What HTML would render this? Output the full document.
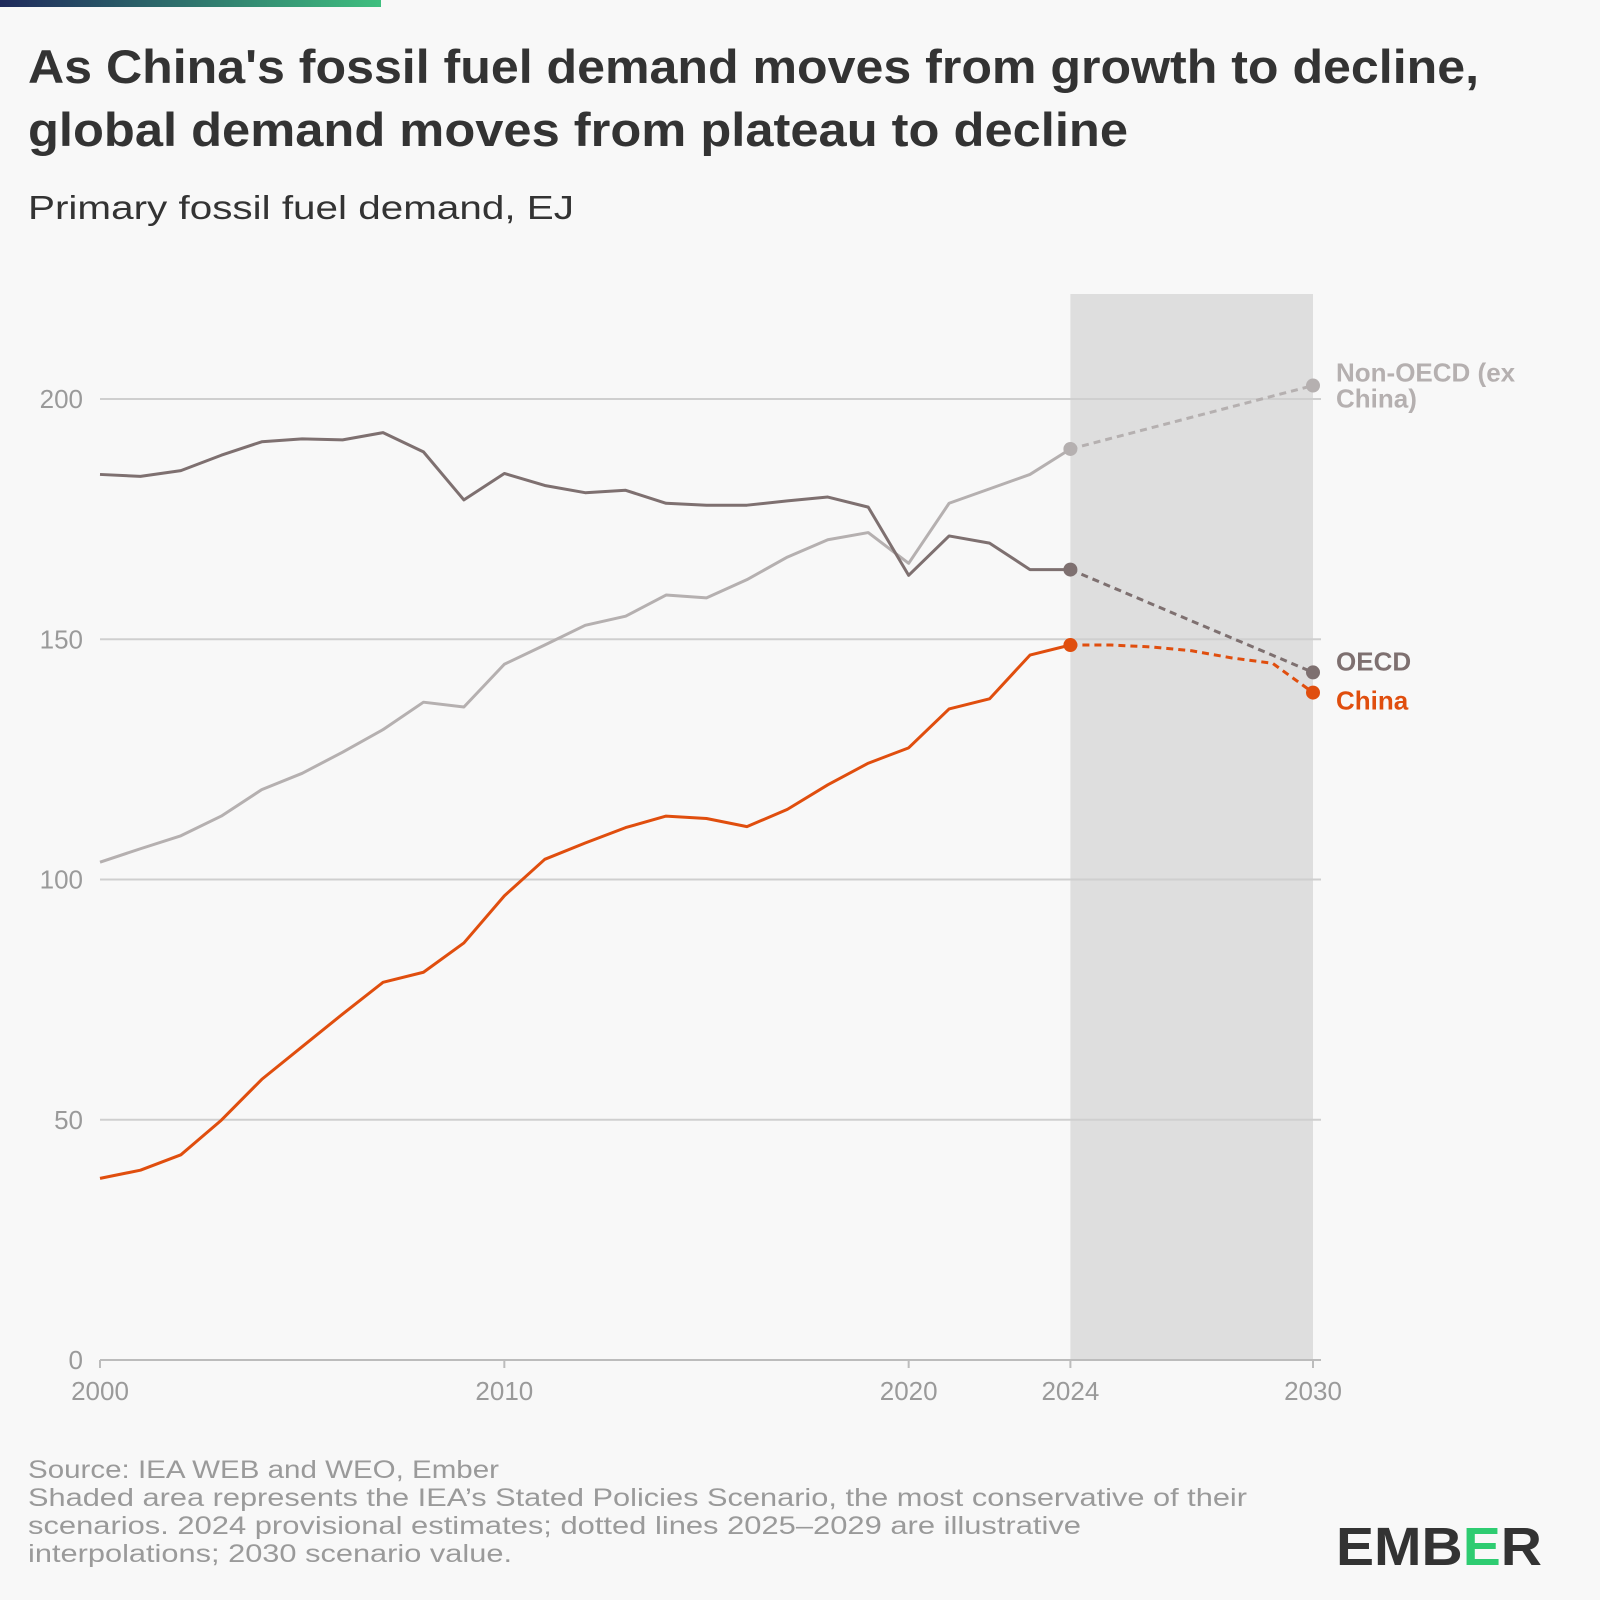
<!DOCTYPE html>
<html><head><meta charset="utf-8"><style>
body{margin:0;background:#f8f8f8;font-family:"Liberation Sans",sans-serif;}
#wrap{position:relative;width:1600px;height:1600px;overflow:hidden;background:#f8f8f8}
</style></head><body>
<div id="wrap">
<svg id="chart" width="1600" height="1600" xmlns="http://www.w3.org/2000/svg">
<defs><linearGradient id="tg" x1="0" x2="1"><stop offset="0" stop-color="#1f2a5c"/><stop offset="1" stop-color="#3fbf7f"/></linearGradient></defs>
<rect x="0" y="0" width="381" height="7" fill="url(#tg)"/>
<text x="28" y="83" font-size="47" font-weight="bold" fill="#333" textLength="1451" lengthAdjust="spacingAndGlyphs">As China's fossil fuel demand moves from growth to decline,</text>
<text x="28" y="146" font-size="47" font-weight="bold" fill="#333" textLength="1100" lengthAdjust="spacingAndGlyphs">global demand moves from plateau to decline</text>
<text x="28" y="219" font-size="33" fill="#333" textLength="546" lengthAdjust="spacingAndGlyphs">Primary fossil fuel demand, EJ</text>
<g id="plot"></g>
<g font-size="25" fill="#9a9a9a">
<text x="28" y="1478" textLength="471" lengthAdjust="spacingAndGlyphs">Source: IEA WEB and WEO, Ember</text>
<text x="28" y="1506" textLength="1219" lengthAdjust="spacingAndGlyphs">Shaded area represents the IEA’s Stated Policies Scenario, the most conservative of their</text>
<text x="28" y="1534" textLength="1053" lengthAdjust="spacingAndGlyphs">scenarios. 2024 provisional estimates; dotted lines 2025–2029 are illustrative</text>
<text x="28" y="1562" textLength="484" lengthAdjust="spacingAndGlyphs">interpolations; 2030 scenario value.</text>
</g>
<text x="1336" y="1565" font-size="54" font-weight="bold" fill="#333" textLength="206" lengthAdjust="spacingAndGlyphs">EMB<tspan fill="#2ecc71">E</tspan>R</text>
</svg>
<script>
const years=[2000,2001,2002,2003,2004,2005,2006,2007,2008,2009,2010,2011,2012,2013,2014,2015,2016,2017,2018,2019,2020,2021,2022,2023,2024];
const oecd=[184.3,183.9,185.1,188.3,191.1,191.7,191.5,193,189,179,184.5,182,180.5,181,178.3,177.9,177.9,178.8,179.6,177.5,163.3,171.5,170,164.5,164.5];
const nonOecd=[103.6,106.4,109.1,113.2,118.7,122.1,126.5,131.2,136.9,135.9,144.8,148.8,152.9,154.8,159.2,158.6,162.4,167.1,170.7,172.2,165.8,178.3,181.3,184.3,189.6];
const china=[37.8,39.5,42.7,49.9,58.4,65.2,72,78.6,80.7,86.8,96.6,104.2,107.6,110.8,113.2,112.7,111,114.6,119.7,124.2,127.4,135.5,137.6,146.7,148.8];
const projYears=[2024,2030];
const oecdProj=[164.5,143.1];
const nonOecdProj=[189.6,202.8];
const chinaProjYears=[2024,2025,2026,2027,2028,2029,2030];
const chinaProj=[148.8,148.8,148.4,147.6,146.1,145,138.9];
const yTicks=[0,50,100,150,200];
const xTicks=[2000,2010,2020,2024,2030];

const X=y=>100+(y-2000)*(1313-100)/30;
const Y=v=>1360-v*(1360-399)/200;
const NS="http://www.w3.org/2000/svg";
const g=document.getElementById('plot');
function mk(t,a){const e=document.createElementNS(NS,t);for(const k in a)e.setAttribute(k,a[k]);g.appendChild(e);return e;}
let e=mk('rect',{x:X(2024),y:294,width:X(2030)-X(2024),height:Y(0)-294,fill:'#dedede'});


yTicks.forEach(v=>{
  if(v>0){let l=mk('line',{x1:100,x2:1321,y1:Y(v),y2:Y(v),stroke:'#cfcfcf','stroke-width':2});
  
  }
  let t=mk('text',{x:83,y:Y(v)+9,'text-anchor':'end','font-size':26,fill:'#9a9a9a'});t.textContent=v;
  
  
});
let ax=mk('line',{x1:100,x2:1321,y1:Y(0),y2:Y(0),stroke:'#bcbcbc','stroke-width':2});


xTicks.forEach(yr=>{
  let l=mk('line',{x1:X(yr),x2:X(yr),y1:Y(0),y2:Y(0)+8,stroke:'#bcbcbc','stroke-width':2});
  
  
  let t=mk('text',{x:X(yr),y:Y(0)+40,'text-anchor':'middle','font-size':26,fill:'#9a9a9a'});t.textContent=yr;
  
  
});
function line(xs,vs,col,dash,name){
  const p=mk('polyline',{points:xs.map((x,i)=>X(x)+','+Y(vs[i])).join(' '),fill:'none',stroke:col,'stroke-width':3,'stroke-dasharray':dash?'7 5':'none','stroke-linejoin':'round'});
  
  
}
function dot(x,v,col,name){const c=mk('circle',{cx:X(x),cy:Y(v),r:7,fill:col});
  
  }
const cN='#b5b0b0',cO='#7e7070',cC='#e04e0e';
line(years,nonOecd,cN,false,'non-oecd-line');
line(years,oecd,cO,false,'oecd-line');
line(years,china,cC,false,'china-line');
line(projYears,nonOecdProj,cN,true,'non-oecd-projection');
line(projYears,oecdProj,cO,true,'oecd-projection');
line(chinaProjYears,chinaProj,cC,true,'china-projection');
dot(2024,nonOecd[24],cN,'non-oecd-2024-point');dot(2030,nonOecdProj[1],cN,'non-oecd-2030-point');
dot(2024,oecd[24],cO,'oecd-2024-point');dot(2030,oecdProj[1],cO,'oecd-2030-point');
dot(2024,china[24],cC,'china-2024-point');dot(2030,chinaProj[6],cC,'china-2030-point');
function lab(txt,y,col,name){const t=mk('text',{x:1336,y:y,'font-size':26,'font-weight':'bold',fill:col});t.textContent=txt;
  
  }
lab('Non-OECD (ex',Y(nonOecdProj[1])-4,cN,'non-oecd-label');
lab('China)',Y(nonOecdProj[1])+22,cN,'non-oecd-label-2');
lab('OECD',Y(oecdProj[1])-2,cO,'oecd-label');
lab('China',Y(chinaProj[6])+17,cC,'china-label');
</script>
</div>
</body></html>
